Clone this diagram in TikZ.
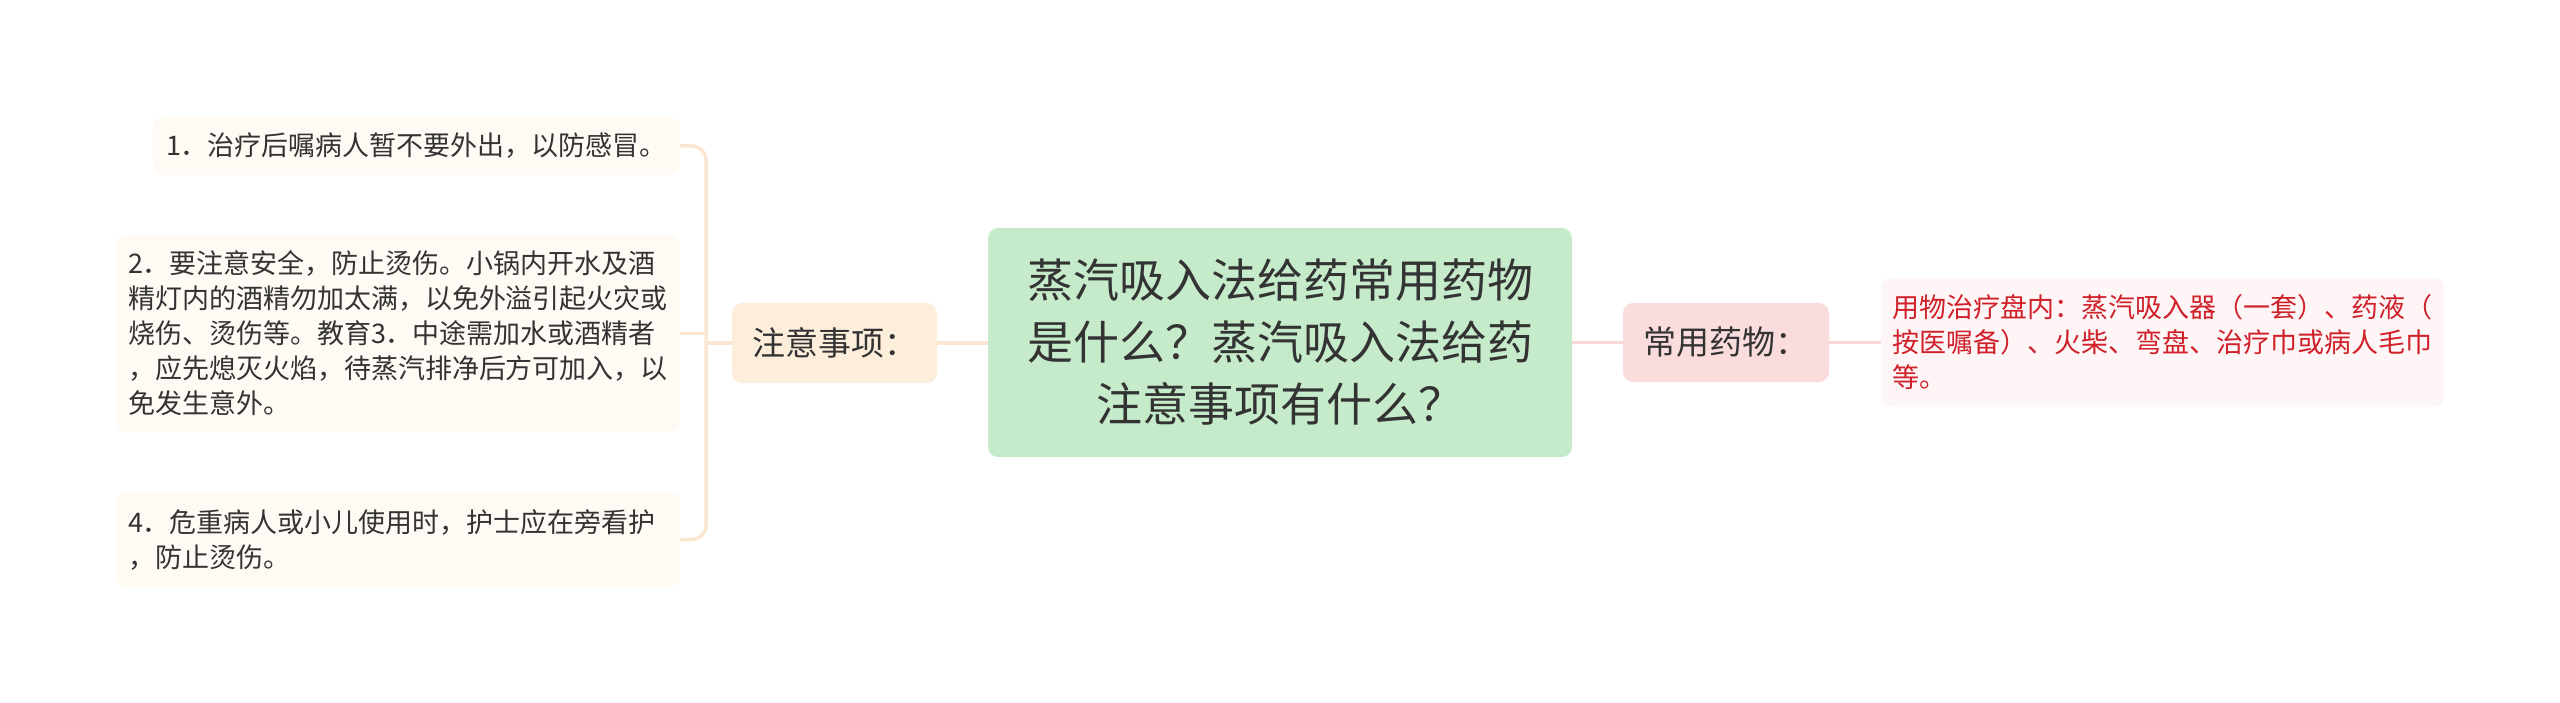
\documentclass[tikz,border=0pt]{standalone}
\usepackage{fontspec}
\setmainfont{Noto Sans CJK SC}
\definecolor{txt}{HTML}{333333}
\definecolor{leafL}{HTML}{FFFAF4}
\definecolor{brL}{HTML}{FDEEDC}
\definecolor{conL}{HTML}{FBE6D2}
\definecolor{rootC}{HTML}{C6EBCB}
\definecolor{brR}{HTML}{FADCDC}
\definecolor{conR}{HTML}{F8D7D7}
\definecolor{leafR}{HTML}{FEF6F6}
\definecolor{redtxt}{HTML}{D0202A}
\begin{document}
\begin{tikzpicture}[x=1pt,y=-1pt,
  box/.style={rounded corners=10pt, inner sep=0pt, align=left},
  leafbox/.style={box, fill=leafL, text=txt, font=\fontsize{27}{35}\selectfont},
  rleafbox/.style={box, fill=leafR, text=redtxt, font=\fontsize{27}{35}\selectfont},
  branchL/.style={box, fill=brL, text=txt, align=center, font=\fontsize{33}{40}\selectfont},
  branchR/.style={box, fill=brR, text=txt, align=center, font=\fontsize{33}{40}\selectfont},
  rootbox/.style={box, fill=rootC, text=txt, align=center, font=\fontsize{46}{62}\selectfont},
  lconn/.style={draw=conL, line width=3.5pt},
  rconn/.style={draw=conR, line width=3.5pt}]
\useasboundingbox (0,0) rectangle (2560,703);

\node[rootbox, minimum width=584pt, minimum height=229pt] (root) at (1280,342.5)
  {蒸汽吸入法给药常用药物\\是什么？蒸汽吸入法给药\\注意事项有什么？};

\node[branchL, minimum width=205pt, minimum height=80pt] (n1) at (834.5,343) {注意事项：};
\node[branchR, minimum width=206pt, minimum height=79pt] (n2) at (1726,342.5) {常用药物：};

\node[leafbox, minimum width=527pt, minimum height=58pt, text width=501pt] (b1) at (416.5,146)
  {1．治疗后嘱病人暂不要外出，以防感冒。};
\node[leafbox, minimum width=564pt, minimum height=197pt, text width=540pt] (b2) at (398,333.5)
  {2．要注意安全，防止烫伤。小锅内开水及酒\\精灯内的酒精勿加太满，以免外溢引起火灾或\\烧伤、烫伤等。教育3．中途需加水或酒精者\\，应先熄灭火焰，待蒸汽排净后方可加入，以\\免发生意外。};
\node[leafbox, minimum width=564pt, minimum height=95pt, text width=540pt] (b3) at (398,539.5)
  {4．危重病人或小儿使用时，护士应在旁看护\\，防止烫伤。};

\node[rleafbox, minimum width=563pt, minimum height=129pt, text width=541pt] (r1) at (2162.5,342.5)
  {用物治疗盘内：蒸汽吸入器（一套）、药液（\\按医嘱备）、火柴、弯盘、治疗巾或病人毛巾\\等。};

\coordinate (brk) at (706,343);

\draw[lconn, rounded corners=14pt] (b1.east) -- (b1.east -| brk) -- (b3.east -| brk) -- (b3.east);
\draw[lconn] (b2.east) -- (b2.east -| brk);
\draw[lconn] (brk) -- (n1.west);
\draw[lconn] (n1.east) -- (n1.east -| root.west);
\draw[rconn] (root.east) -- (n2.west);
\draw[rconn] (n2.east) -- (r1.west);
\end{tikzpicture}
\end{document}
